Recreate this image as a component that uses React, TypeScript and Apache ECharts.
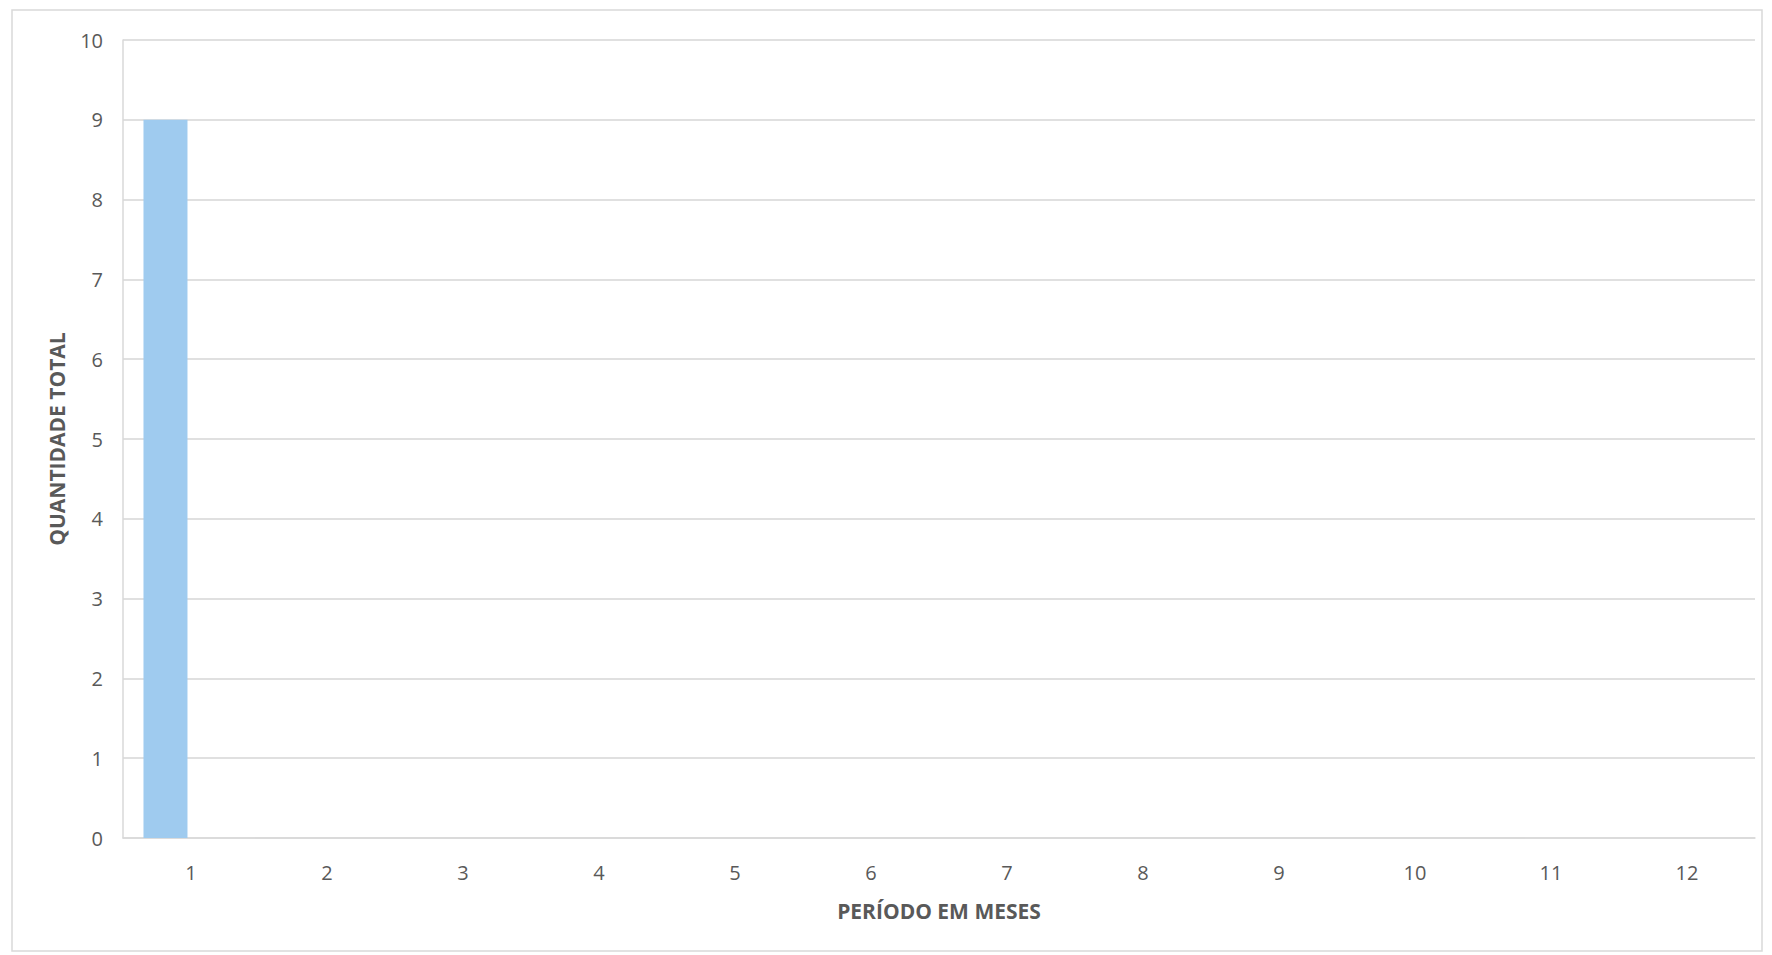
import React, { useEffect, useRef } from "react";
import * as echarts from "echarts";

const categories = ["1", "2", "3", "4", "5", "6", "7", "8", "9", "10", "11", "12"];
const quantidade = [9, 0, 0, 0, 0, 0, 0, 0, 0, 0, 0, 0];
const segundaSerie = [0, 0, 0, 0, 0, 0, 0, 0, 0, 0, 0, 0];
const yTicks = { min: 0, max: 10, interval: 1 };
const xTitle = "PERÍODO EM MESES";
const yTitle = "QUANTIDADE TOTAL";

export default function App() {
  const ref = useRef<HTMLDivElement>(null);
  useEffect(() => {
    if (!ref.current) return;
    const chart = echarts.init(ref.current, undefined, { renderer: "svg" });
    const font = "'Open Sans', 'Liberation Sans', sans-serif";
    chart.setOption({
      animation: false,
      backgroundColor: "#ffffff",
      graphic: [
        {
          type: "rect",
          shape: { x: 12, y: 10, width: 1750, height: 941 },
          style: { fill: "none", stroke: "#d9d9d9", lineWidth: 1.5 },
          silent: true,
        },
      ],
      grid: { left: 123, right: 17, top: 40, bottom: 117, containLabel: false },
      xAxis: {
        type: "category",
        data: categories,
        name: xTitle,
        nameLocation: "middle",
        nameGap: 62,
        nameTextStyle: { fontFamily: font, fontSize: 21, fontWeight: "bold", color: "#595959" },
        axisLine: { show: true, lineStyle: { color: "#d9d9d9", width: 1.5 } },
        axisTick: { show: false },
        axisLabel: { fontFamily: font, fontSize: 20, color: "#595959", margin: 24 },
        splitLine: { show: false },
      },
      yAxis: {
        type: "value",
        min: yTicks.min,
        max: yTicks.max,
        interval: yTicks.interval,
        name: yTitle,
        nameLocation: "middle",
        nameGap: 56,
        nameRotate: 90,
        nameTextStyle: { fontFamily: font, fontSize: 21, fontWeight: "bold", color: "#595959" },
        axisLine: { show: true, lineStyle: { color: "#d9d9d9", width: 1.5 } },
        axisTick: { show: false },
        axisLabel: { fontFamily: font, fontSize: 20, color: "#595959", margin: 20 },
        splitLine: { show: true, lineStyle: { color: "#d6d6d6", width: 1.5 } },
      },
      series: [
        {
          type: "bar",
          data: quantidade,
          barWidth: 44,
          barGap: "16%",
          itemStyle: { color: "#9fcbef" },
        },
        {
          type: "bar",
          data: segundaSerie,
          barWidth: 44,
          barGap: "16%",
          itemStyle: { color: "#ed7d31" },
        },
      ],
    });
    return () => chart.dispose();
  }, []);
  return (
    <div
      ref={ref}
      style={{ position: "fixed", left: 0, top: 0, width: 1772, height: 955, background: "#fff" }}
    />
  );
}
